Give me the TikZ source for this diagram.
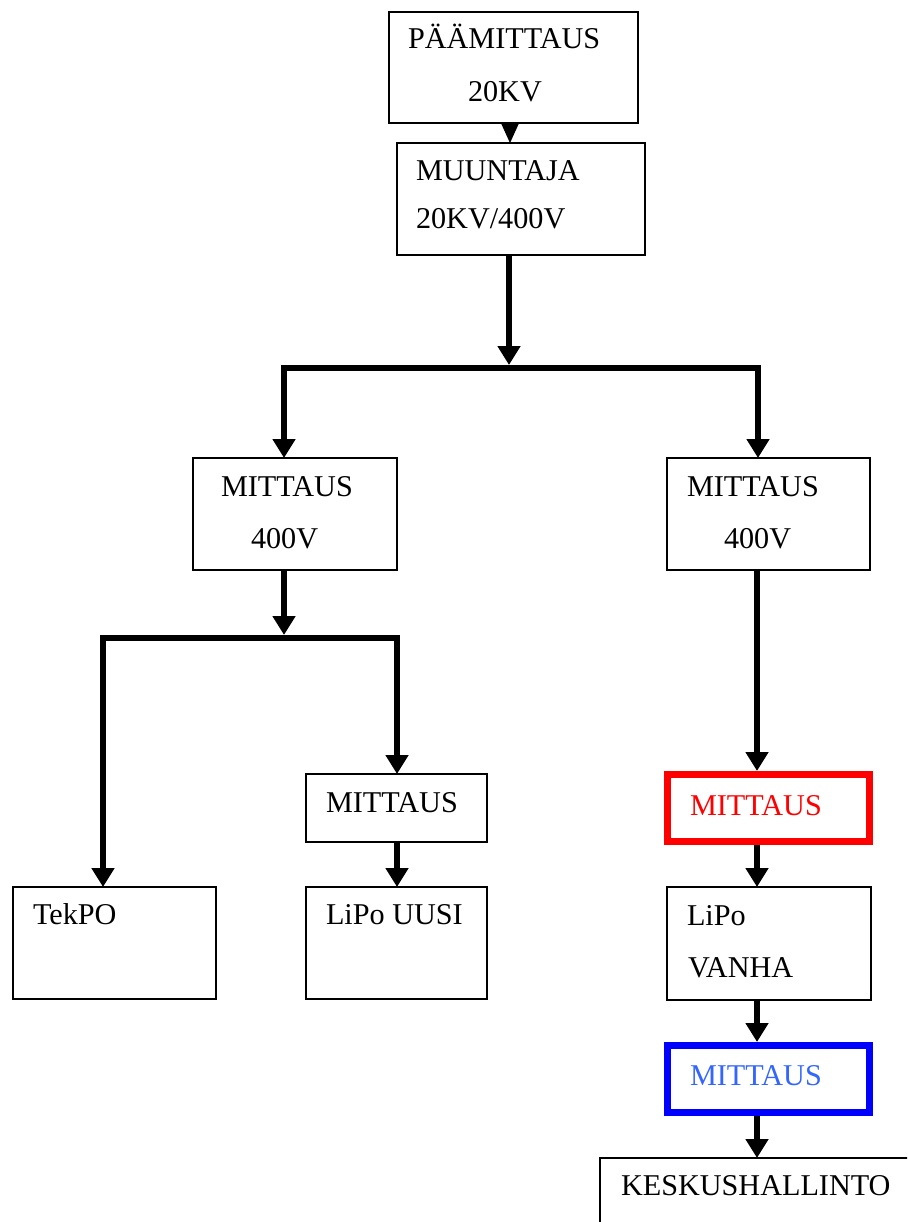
\documentclass[tikz,border=0pt]{standalone}
\usepackage{fontspec}
\setmainfont{Liberation Serif}
\usetikzlibrary{arrows.meta,calc}
\definecolor{redline}{RGB}{255,0,0}
\definecolor{blueline}{RGB}{0,0,255}
\definecolor{bluetext}{RGB}{51,102,255}
\tikzset{
  box/.style={draw=black, line width=1.3pt, inner sep=0pt, outer sep=0pt, fill=white},
  hotbox/.style={draw=#1, line width=7pt, inner sep=0pt, outer sep=0pt, fill=white},
  lbl/.style={anchor=base west, inner sep=0pt, outer sep=0pt, font=\fontsize{30.2}{32}\selectfont},
  conn/.style={line width=6.5pt, line join=miter, line cap=butt},
  tip/.style={-{Triangle[width=22pt,length=19pt]}},
  bitip/.style={{Triangle[width=22pt,length=19pt]}-{Triangle[width=22pt,length=19pt]}},
}
\begin{document}
\begin{tikzpicture}[x=1pt,y=-1pt]
\useasboundingbox (0,0) rectangle (907,1222);
\fill[white] (0,0) rectangle (907,1222);
\clip (0,0) rectangle (907,1222);

% boxes
\node[box, minimum width=249pt, minimum height=111pt] (b1) at (513.5,67.5) {};
\node[box, minimum width=248pt, minimum height=112pt] (b2) at (521,199) {};
\node[box, minimum width=204pt, minimum height=112pt] (b3L) at (295,514) {};
\node[box, minimum width=203pt, minimum height=112pt] (b3R) at (768.5,514) {};
\node[box, minimum width=181pt, minimum height=68pt] (mL) at (396.5,808) {};
\node[box, minimum width=203pt, minimum height=112pt] (tek) at (114.5,943) {};
\node[box, minimum width=181pt, minimum height=112pt] (uusi) at (396.5,943) {};
\node[hotbox=redline, minimum width=202pt, minimum height=67pt] (red) at (768.5,808) {};
\node[box, minimum width=204pt, minimum height=113pt] (vanha) at (769,943.5) {};
\node[hotbox=blueline, minimum width=202pt, minimum height=67pt] (blue) at (768.5,1079) {};
\node[box, minimum width=400pt, minimum height=142pt] (kesk) at (800,1229) {};

% labels
\node[lbl] (t1a) at (408,49) {PÄÄMITTAUS};
\node[lbl] (t1b) at (468,102) {20KV};
\node[lbl] (t2a) at (416,181) {MUUNTAJA};
\node[lbl] (t2b) at (416,229) {20KV/400V};
\node[lbl] (t3a) at (221,496) {MITTAUS};
\node[lbl] (t3b) at (251,548) {400V};
\node[lbl] (t4a) at (687,496) {MITTAUS};
\node[lbl] (t4b) at (724,548) {400V};
\node[lbl] (t5) at (326,812) {MITTAUS};
\node[lbl] (t6) at (33,924) {TekPO};
\node[lbl] (t7) at (326,924) {LiPo UUSI};
\node[lbl, text=redline] (t8) at (690,815) {MITTAUS};
\node[lbl] (t9a) at (687,925) {LiPo};
\node[lbl] (t9b) at (688,977) {VANHA};
\node[lbl, text=bluetext] (t10) at (690,1085) {MITTAUS};
\node[lbl] (t11) at (621,1195) {KESKUSHALLINTO};

% junction coordinates
\coordinate (a1) at (510,0);
\coordinate (j1) at (509,368);
\coordinate (jL) at (284,368);
\coordinate (jR) at (758,368);
\coordinate (j2) at (284,638);
\coordinate (kL) at (103,638);
\coordinate (kR) at (397,638);
\coordinate (r) at (757,0);

% connectors
\draw[line width=1pt, -{Triangle[width=17pt,length=19pt]}] (b1.south -| a1) -- (b2.north -| a1);
\draw[conn, tip, shorten >=3pt] (b2.south -| j1) -- (j1);
\draw[conn, bitip] (b3L.north -| jL) -- (jL) -- (jR) -- (b3R.north -| jR);
\draw[conn, tip, shorten >=3pt] (b3L.south -| j2) -- (j2);
\draw[conn, bitip] (tek.north -| kL) -- (kL) -- (kR) -- (mL.north -| kR);
\draw[conn, tip] (mL.south -| kR) -- (uusi.north -| kR);
\draw[conn, tip, shorten >=3.5pt] (b3R.south -| r) -- (red.north -| r);
\draw[conn, tip, shorten <=3.5pt] (red.south -| r) -- (vanha.north -| r);
\draw[conn, tip, shorten >=3.5pt] (vanha.south -| r) -- (blue.north -| r);
\draw[conn, tip, shorten <=3.5pt] (blue.south -| r) -- (kesk.north -| r);
\end{tikzpicture}
\end{document}
